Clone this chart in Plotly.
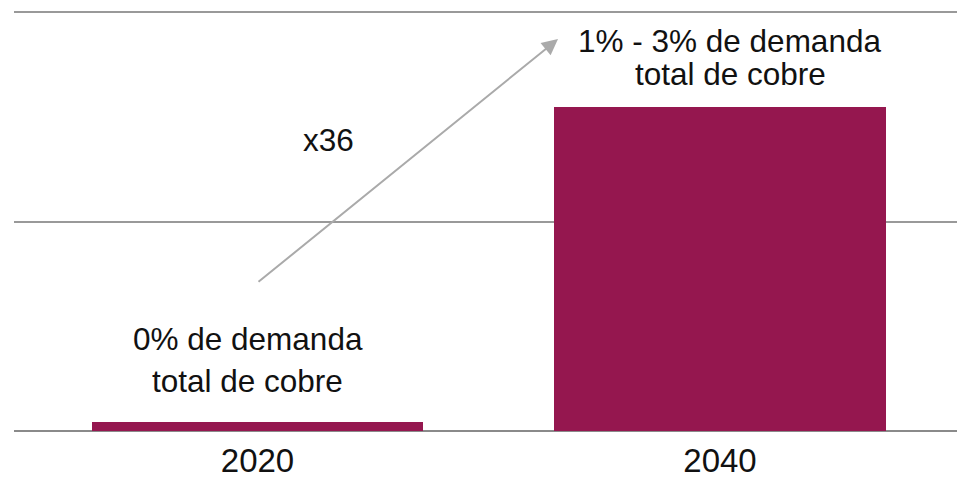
import plotly.graph_objects as go

years = ["2020", "2040"]
values = [0.043, 1.547]
left_lines = ["0% de demanda", "total de cobre"]
right_lines = ["1% - 3% de demanda", "total de cobre"]
growth_label = "x36"

BAR = "#95174F"
FONT = "Liberation Sans, Helvetica, Arial, sans-serif"

fig = go.Figure()
fig.add_trace(go.Bar(
    x=years, y=values, width=0.716,
    marker=dict(color=BAR, line=dict(width=0)),
    hoverinfo="skip",
))

# pixel helpers (plot area: x 14..957, y 12..431)
def px_x(p):
    return (p - 257.5) / 462.5

def px_y(p):
    return (431 - p) / 209.5

ann = []
ann.append(dict(x=px_x(247.5), y=px_y(339), text=left_lines[0]))
ann.append(dict(x=px_x(247.5), y=px_y(381), text=left_lines[1]))
ann.append(dict(x=px_x(729), y=px_y(40.5), text=right_lines[0]))
ann.append(dict(x=px_x(730), y=px_y(74), text=right_lines[1]))
ann.append(dict(x=px_x(328), y=px_y(140), text=growth_label))
for a in ann:
    a.update(xref="x", yref="y", showarrow=False, xanchor="center", yanchor="middle",
             font=dict(family=FONT, size=31.5, color="#111111"))
fig.update_layout(annotations=ann)

fig.add_annotation(
    x=px_x(558), y=px_y(39), ax=px_x(257), ay=px_y(283),
    xref="x", yref="y", axref="x", ayref="y",
    text="", showarrow=True, arrowhead=2, arrowsize=1.6, arrowwidth=2,
    arrowcolor="#AAAAAA",
)

fig.update_layout(
    width=957, height=480,
    margin=dict(l=14, r=0, t=11, b=49),
    paper_bgcolor="white", plot_bgcolor="white",
    showlegend=False,
    bargap=0,
    xaxis=dict(
        type="category", range=[-0.5265, 1.5124],
        showgrid=False, zeroline=False, showline=False,
        ticks="", ticklabelstandoff=7, automargin=False,
        tickfont=dict(family=FONT, size=33, color="#111111"),
        fixedrange=True,
    ),
    yaxis=dict(
        range=[0, 2.005], tickvals=[0, 1, 2], showticklabels=False,
        showgrid=True, gridcolor="#999999", gridwidth=2,
        zeroline=True, zerolinecolor="#8A8A8A", zerolinewidth=2,
        showline=False, fixedrange=True, automargin=False,
    ),
)

fig.write_html("out.html")
